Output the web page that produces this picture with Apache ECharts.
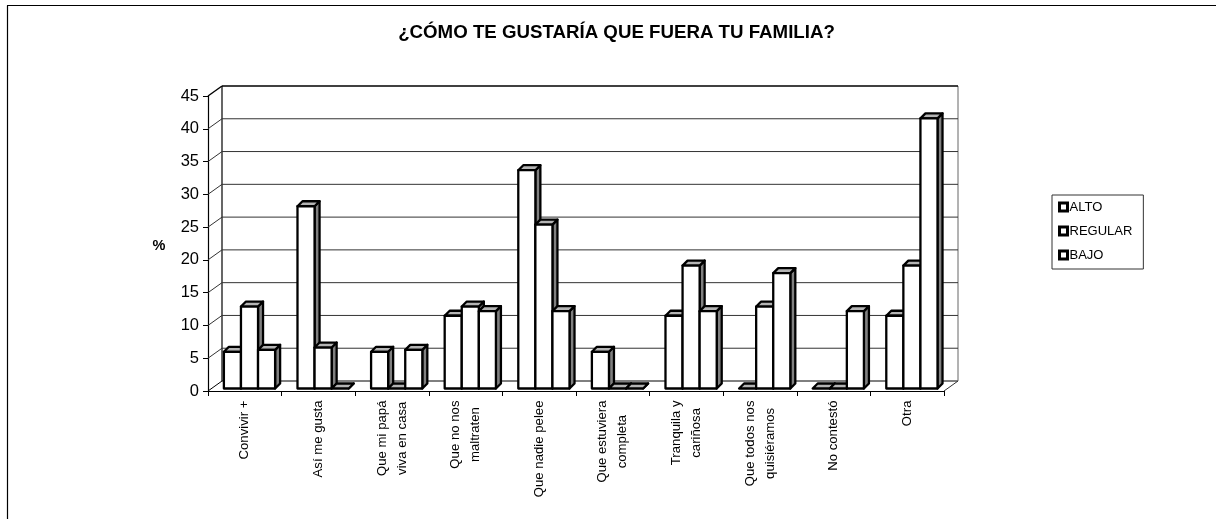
<!DOCTYPE html>
<html><head><meta charset="utf-8">
<style>html,body{margin:0;padding:0;background:#fff}#c{width:1216px;height:519px}</style>
<script src="https://cdn.jsdelivr.net/npm/echarts@6/dist/echarts.min.js"></script>
</head><body><div id="c"></div>
<script>
const categories = ["Convivir +","Así me gusta","Que mi papá\nviva en casa","Que no nos\nmaltraten","Que nadie pelee","Que estuviera\ncompleta","Tranquila y\ncariñosa","Que todos nos\nquisiéramos","No contestó","Otra"];
const alto    = [5.6,27.8,5.6,11.1,33.3,5.6,11.1,0,0,11.1];
const regular = [12.5,6.25,0,12.5,25,0,18.75,12.5,0,18.75];
const bajo    = [5.9,0,5.9,11.8,11.8,0,11.8,17.6,11.8,41.2];
const yTicks  = [0,5,10,15,20,25,30,35,40,45];
const seriesNames = ["ALTO","REGULAR","BAJO"];
const seriesValues = [alto,regular,bajo];

const FONT = '"Liberation Sans", Arial, sans-serif';
const wallDX = 14, wallDY = 10;

function wallItem(params, api){
  const cs = params.coordSys;
  const p = api.coord([0, api.value(1)]);
  const l = cs.x, r = cs.x + cs.width, y = p[1];
  const t = api.value(1);
  const st = {stroke:(t===45||t===0)?'#000':'#333', lineWidth:(t===45)?1.4:1, fill:null};
  const kids = [
    {type:'line',shape:{x1:l,y1:y,x2:l+wallDX,y2:y-wallDY},style:st},
    {type:'line',shape:{x1:l+wallDX,y1:y-wallDY,x2:r+wallDX,y2:y-wallDY},style:st}
  ];
  if(t===0){
    kids.push({type:'line',shape:{x1:r,y1:y,x2:r+wallDX,y2:y-wallDY},style:{stroke:'#333',lineWidth:1}});
    kids.push({type:'line',shape:{x1:l+wallDX,y1:y-wallDY,x2:l+wallDX,y2:cs.y-wallDY},style:{stroke:'#000',lineWidth:1.2}});
    kids.push({type:'line',shape:{x1:r+wallDX,y1:y-wallDY,x2:r+wallDX,y2:cs.y-wallDY},style:{stroke:'#666',lineWidth:1}});
  }
  return {type:'group',silent:true,children:kids};
}

function barItem(s){
  return function(params, api){
    const cat = api.value(0), v = api.value(1);
    const band = api.size([1,0])[0];
    const w = band*0.232, dx = 5, dy = 5, lift = 2.5;
    const top = api.coord([cat, v]), base = api.coord([cat, 0]);
    const x0 = top[0] + 4.7 + (s-1.5)*w, x1 = x0 + w;
    const yB = base[1]-lift, yT = top[1]-lift;
    const edge = {stroke:'#000',lineWidth:2.3,lineJoin:'round'};
    const kids = [
      {type:'polygon',shape:{points:[[x1,yT],[x1+dx,yT-dy],[x1+dx,yB-dy],[x1,yB]]},style:Object.assign({fill:'#808080'},edge)},
      {type:'polygon',shape:{points:[[x0,yT],[x0+dx,yT-dy],[x1+dx,yT-dy],[x1,yT]]},style:Object.assign({fill:'#b4b4b4'},edge)}
    ];
    if(v>0) kids.push({type:'rect',shape:{x:x0,y:yT,width:w,height:yB-yT},style:Object.assign({fill:'#fff'},edge)});
    return {type:'group',children:kids};
  };
}

const chart = echarts.init(document.getElementById('c'),null,{renderer:'canvas'});
chart.setOption({
  animation:false,
  backgroundColor:'#fff',
  title:{text:'¿CÓMO TE GUSTARÍA QUE FUERA TU FAMILIA?',left:616.5,top:23,padding:0,textAlign:'center',
    textStyle:{fontFamily:FONT,fontSize:18.7,fontWeight:'bold',color:'#000'}},
  legend:{data:seriesNames,left:1052,top:195,orient:'vertical',padding:[5,11,7,6],itemGap:10,
    itemWidth:8,itemHeight:8,icon:'rect',borderColor:'#333',borderWidth:1,
    itemStyle:{color:'#fff',borderColor:'#000',borderWidth:3},
    textStyle:{fontFamily:FONT,fontSize:13,lineHeight:14,color:'#000',padding:[0,0,0,-3]},selectedMode:false},
  grid:{left:208,top:96,width:736,height:295,containLabel:false},
  xAxis:{type:'category',data:categories,
    axisLine:{lineStyle:{color:'#000',width:1.2}},
    axisTick:{show:true,length:5,alignWithLabel:false,lineStyle:{color:'#000',width:1}},
    splitLine:{show:false},
    axisLabel:{interval:0,rotate:90,margin:9.5,fontFamily:FONT,fontSize:13.2,color:'#000',lineHeight:20,
      formatter:v=>v.split('\n').map(t=>'{c|'+t+'}').join('\n'),
      rich:{c:{align:'center',fontFamily:FONT,fontSize:13.2,color:'#000',lineHeight:20}}}},
  yAxis:{type:'value',min:0,max:45,interval:5,
    axisLine:{show:true,lineStyle:{color:'#000',width:1.2}},
    axisTick:{show:true,length:5,lineStyle:{color:'#000',width:1}},
    splitLine:{show:false},
    axisLabel:{margin:9,fontFamily:FONT,fontSize:16.5,color:'#000',
      customValues:yTicks}},
  graphic:[
    {type:'line',silent:true,shape:{x1:7,y1:5.5,x2:1216,y2:5.5},style:{stroke:'#000',lineWidth:1.2}},
    {type:'line',silent:true,shape:{x1:7.5,y1:5.5,x2:7.5,y2:519},style:{stroke:'#000',lineWidth:1.2}},
    {type:'text',silent:true,x:159,y:246,style:{text:'%',align:'center',verticalAlign:'middle',
      font:'bold 14.5px '+FONT,fill:'#000'}}
  ],
  series:[
    {type:'custom',name:'walls',z:1,silent:true,renderItem:wallItem,
     data:yTicks.map(t=>[0,t]),encode:{x:0,y:1},clip:false}
  ].concat(seriesNames.map((n,s)=>({
    type:'custom',name:n,z:3+s,silent:true,renderItem:barItem(s),
    itemStyle:{color:'#fff',borderColor:'#000'},
    data:seriesValues[s].map((v,i)=>[i,v]),encode:{x:0,y:1},clip:false
  })))
});
</script></body></html>
